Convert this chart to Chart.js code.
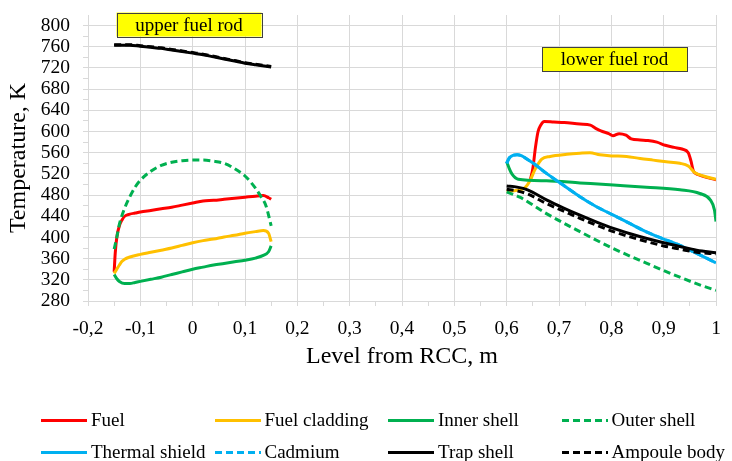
<!DOCTYPE html>
<html>
<head>
<meta charset="utf-8">
<script src="https://cdn.jsdelivr.net/npm/chart.js@4.4.1/dist/chart.umd.min.js"></script>
<style>
    body { margin: 0; background: #fff; }
    #wrap { position: relative; width: 732px; height: 461px; }
    #legend { position: absolute; left: 0; top: 0; width: 732px; height: 461px; pointer-events: none; }
    .item { position: absolute; height: 24px; font: 19px 'Liberation Serif', 'Times New Roman', serif; color: #000; white-space: nowrap; }
    .item .ln { position: absolute; left: 0; top: 11px; width: 46px; height: 3px; }
    .item span { position: absolute; left: 50px; top: 0; line-height: 24px; }
</style>
</head>
<body>
<div id="wrap">
    <canvas id="chart" width="732" height="461"></canvas>
    <div id="legend"></div>
</div>
<script>
// Upper fuel rod: [level, temperature]
const fuelUpper = [[-0.150,335],[-0.148,370],[-0.145,400],[-0.140,422],[-0.135,433],[-0.130,440],[-0.120,444],[-0.110,446],[-0.100,448],[-0.080,451],[-0.060,454],[-0.040,457],[-0.020,461],[0.000,465],[0.020,469],[0.040,470],[0.060,472],[0.080,474],[0.100,476],[0.120,478],[0.135,479],[0.145,475],[0.150,472]];
const claddingUpper = [[-0.150,332],[-0.145,340],[-0.140,348],[-0.135,355],[-0.130,359],[-0.120,363],[-0.100,368],[-0.080,372],[-0.060,376],[-0.040,380],[-0.020,385],[0.000,390],[0.020,394],[0.040,397],[0.060,401],[0.080,404],[0.100,408],[0.120,411],[0.135,413],[0.145,408],[0.150,392]];
const innerUpper = [[-0.150,330],[-0.145,322],[-0.140,317],[-0.130,313],[-0.120,313],[-0.110,315],[-0.100,317],[-0.080,321],[-0.060,325],[-0.040,330],[-0.020,335],[0.000,340],[0.020,344],[0.040,348],[0.060,351],[0.080,354],[0.100,357],[0.120,361],[0.135,366],[0.145,373],[0.150,384]];
const outerUpper = [[-0.150,378],[-0.145,400],[-0.140,425],[-0.130,455],[-0.120,477],[-0.110,495],[-0.100,508],[-0.080,525],[-0.060,536],[-0.040,542],[-0.020,545],[0.000,546],[0.020,546],[0.040,544],[0.060,540],[0.080,530],[0.100,516],[0.120,493],[0.130,478],[0.140,460],[0.150,422]];
const trapUpper = [[-0.150,763],[-0.120,763],[-0.100,761],[-0.080,759],[-0.060,757],[-0.040,754],[-0.020,751],[0.000,748],[0.020,745],[0.040,741],[0.060,737],[0.080,733],[0.100,729],[0.120,726],[0.150,722]];
const ampouleUpper = [[-0.150,764],[-0.120,764],[-0.100,762],[-0.080,760],[-0.060,758],[-0.040,755],[-0.020,752],[0.000,749],[0.020,746],[0.040,742],[0.060,738],[0.080,734],[0.100,730],[0.120,727],[0.150,723]];

// Lower fuel rod
const fuelLower = [[0.645,508],[0.650,530],[0.655,570],[0.660,600],[0.665,612],[0.672,619],[0.690,618],[0.710,617],[0.740,614],[0.760,612],[0.770,606],[0.780,601],[0.795,596],[0.803,592],[0.815,596],[0.828,593],[0.838,586],[0.855,584],[0.870,583],[0.887,580],[0.903,574],[0.920,570],[0.935,567],[0.947,560],[0.952,545],[0.957,525],[0.965,519],[0.980,514],[1.000,509]];
const claddingLower = [[0.600,487],[0.620,489],[0.635,494],[0.645,508],[0.654,528],[0.667,548],[0.683,553],[0.715,557],[0.740,559],[0.759,560],[0.778,556],[0.800,554],[0.829,553],[0.855,549],[0.880,546],[0.905,543],[0.931,540],[0.947,535],[0.960,522],[0.976,516],[1.000,510]];
const innerLower = [[0.600,543],[0.605,530],[0.610,520],[0.622,510],[0.676,507],[0.740,503],[0.804,499],[0.867,495],[0.931,490],[0.969,483],[0.989,471],[0.997,452],[1.000,430]];
const outerLower = [[0.600,486],[0.625,476],[0.676,445],[0.740,411],[0.804,379],[0.868,351],[0.931,325],[0.970,310],[1.000,300]];
const thermalLower = [[0.600,540],[0.605,550],[0.612,555],[0.620,556],[0.629,554],[0.640,547],[0.651,540],[0.676,521],[0.708,499],[0.740,477],[0.770,459],[0.804,442],[0.836,426],[0.868,410],[0.900,397],[0.931,385],[0.963,370],[1.000,352]];
const cadmiumLower = [[0.600,540],[0.605,550],[0.612,555],[0.620,556],[0.629,554],[0.640,547],[0.651,540],[0.676,521],[0.708,499],[0.740,477],[0.770,459],[0.804,442],[0.836,426],[0.868,410],[0.900,397],[0.931,385],[0.963,370],[1.000,352]];
const trapLower = [[0.600,497],[0.620,495],[0.640,490],[0.676,471],[0.708,456],[0.740,442],[0.772,429],[0.804,417],[0.836,407],[0.868,398],[0.900,390],[0.931,383],[0.963,376],[1.000,371]];
const ampouleLower = [[0.600,491],[0.620,488],[0.640,482],[0.676,464],[0.708,450],[0.740,436],[0.772,423],[0.804,411],[0.836,401],[0.868,392],[0.900,384],[0.931,378],[0.963,372],[1.000,369]];

const seriesNames = ['Fuel', 'Fuel cladding', 'Inner shell', 'Outer shell', 'Thermal shield', 'Cadmium', 'Trap shell', 'Ampoule body'];
const xTicks = { min: -0.2, max: 1, step: 0.05 };
const yTicks = { min: 280, max: 820, step: 20 };
const notes = [
    { text: 'upper fuel rod', x: -0.007, y: 802 },
    { text: 'lower fuel rod', x: 0.806, y: 736 }
];

const styles = [
    { color: '#ff0000', dash: [] },
    { color: '#ffc000', dash: [] },
    { color: '#00b050', dash: [] },
    { color: '#00b050', dash: [7, 4] },
    { color: '#00b0f0', dash: [] },
    { color: '#00b0f0', dash: [7, 4] },
    { color: '#000000', dash: [] },
    { color: '#000000', dash: [7, 4] }
];

function pts(upper, lower) {
    const out = upper.map(p => ({ x: p[0], y: p[1] }));
    if (upper.length) out.push({ x: 0.3, y: null });
    return out.concat(lower.map(p => ({ x: p[0], y: p[1] })));
}

const seriesData = [
    pts(fuelUpper, fuelLower),
    pts(claddingUpper, claddingLower),
    pts(innerUpper, innerLower),
    pts(outerUpper, outerLower),
    pts([], thermalLower),
    pts([], cadmiumLower),
    pts(trapUpper, trapLower),
    pts(ampouleUpper, ampouleLower)
];

const GRID = '#d9d9d9';
const isMajorX = v => Math.abs(Math.round(v * 20)) % 2 === 0;
const isMajorY = v => Math.round(v) % 40 === 0 && Math.round(v) !== 820;

// Text boxes placed at data coordinates
const notesPlugin = {
    id: 'notes',
    afterDraw(chart) {
        const ctx = chart.ctx;
        const xs = chart.scales.x, ys = chart.scales.y;
        ctx.save();
        ctx.font = "19px 'Liberation Serif'";
        ctx.textAlign = 'center';
        ctx.textBaseline = 'middle';
        notes.forEach(n => {
            const cx = xs.getPixelForValue(n.x);
            const cy = ys.getPixelForValue(n.y);
            const w = 145, h = 24;
            ctx.fillStyle = '#ffff00';
            ctx.fillRect(cx - w / 2, cy - h / 2, w, h);
            ctx.strokeStyle = '#404040';
            ctx.lineWidth = 1;
            ctx.strokeRect(Math.round(cx - w / 2) + 0.5, Math.round(cy - h / 2) + 0.5, w, h);
            ctx.fillStyle = '#000';
            ctx.fillText(n.text, cx, cy + 1);
        });
        ctx.restore();
    }
};

Chart.defaults.font.family = "'Liberation Serif', 'Times New Roman', serif";
Chart.defaults.color = '#000';

new Chart(document.getElementById('chart').getContext('2d'), {
    type: 'line',
    data: {
        datasets: seriesData.map((d, i) => ({
            label: seriesNames[i],
            data: d,
            borderColor: styles[i].color,
            backgroundColor: styles[i].color,
            borderDash: styles[i].dash,
            borderWidth: 3,
            pointRadius: 0,
            fill: false,
            spanGaps: false,
            cubicInterpolationMode: 'monotone',
            order: seriesNames.length - i
        }))
    },
    options: {
        responsive: false,
        animation: false,
        layout: { padding: { left: 0, right: 16, top: 15, bottom: 90 } },
        plugins: { legend: { display: false }, tooltip: { enabled: false } },
        scales: {
            x: {
                type: 'linear',
                min: xTicks.min,
                max: xTicks.max,
                afterFit: s => { s.height = 70; },
                ticks: {
                    stepSize: xTicks.step,
                    autoSkip: false,
                    maxRotation: 0,
                    padding: 11,
                    font: { size: 19.5 },
                    callback: v => {
                        if (!isMajorX(v)) return '';
                        const r = Math.round(v * 10) / 10;
                        return String(r).replace('.', ',');
                    }
                },
                grid: {
                    color: c => isMajorX(c.tick.value) ? GRID : 'rgba(0,0,0,0)',
                    tickColor: GRID,
                    tickLength: 5,
                    lineWidth: 1
                },
                border: { color: GRID },
                title: { display: true, text: 'Level from RCC, m', font: { size: 24 }, padding: 0 }
            },
            y: {
                min: yTicks.min,
                max: yTicks.max,
                afterFit: s => { s.width = 88; s.paddingTop = 0; s.paddingBottom = 0; },
                ticks: {
                    stepSize: yTicks.step,
                    autoSkip: false,
                    padding: 13,
                    font: { size: 19.5 },
                    callback: v => isMajorY(v) ? String(v) : ''
                },
                grid: {
                    color: c => isMajorY(c.tick.value) ? GRID : 'rgba(0,0,0,0)',
                    tickColor: c => Math.round(c.tick.value) === 820 ? 'rgba(0,0,0,0)' : GRID,
                    tickLength: 5
                },
                border: { color: GRID },
                title: { display: true, text: 'Temperature, K', font: { size: 24 }, padding: { top: 4, bottom: 0 } }
            }
        }
    },
    plugins: [notesPlugin]
});

// Legend in four columns, two rows
const legend = document.getElementById('legend');
seriesNames.forEach((name, i) => {
    const col = i % 4, row = Math.floor(i / 4);
    const el = document.createElement('div');
    el.className = 'item';
    el.style.left = (41 + col * 173.5) + 'px';
    el.style.top = (408 + row * 32) + 'px';
    const ln = document.createElement('div');
    ln.className = 'ln';
    const c = styles[i].color;
    ln.style.background = styles[i].dash.length
        ? 'repeating-linear-gradient(to right, ' + c + ' 0 7px, transparent 7px 11px)'
        : c;
    const sp = document.createElement('span');
    sp.textContent = name;
    el.appendChild(ln);
    el.appendChild(sp);
    legend.appendChild(el);
});
</script>
</body>
</html>
